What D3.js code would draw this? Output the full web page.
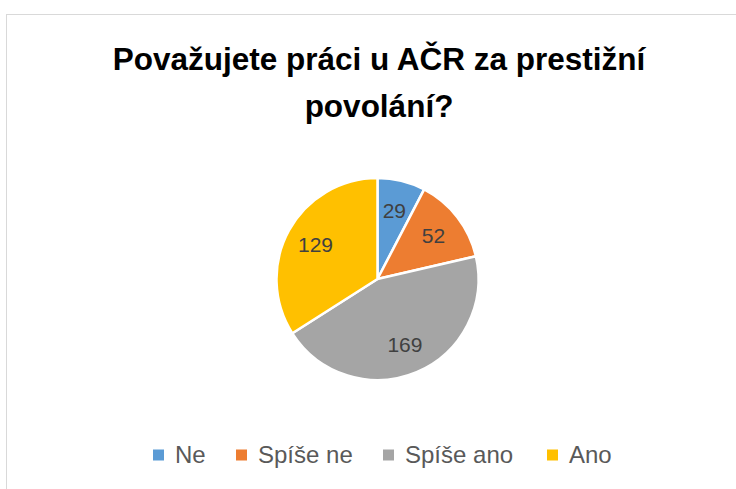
<!DOCTYPE html>
<html><head><meta charset="utf-8">
<script src="https://cdn.jsdelivr.net/npm/d3@7"></script>
<style>body{margin:0;background:#fff}svg{display:block}</style>
</head><body>
<svg id="c" width="736" height="489"></svg>
<script>
const categories = ["Ne", "Spíše ne", "Spíše ano", "Ano"];
const values = [29, 52, 169, 129];
const colors = ["#5B9BD5", "#ED7D31", "#A5A5A5", "#FFC000"];
const titleLines = ["Považujete práci u AČR za prestižní", "povolání?"];

const svg = d3.select("#c");
const font = "'Liberation Sans', Arial, sans-serif";

// chart area border
svg.append("rect").attr("x", 6.5).attr("y", 14.5).attr("width", 760).attr("height", 500)
  .attr("fill", "none").attr("stroke", "#D9D9D9").attr("stroke-width", 1);

// title
const title = svg.append("text").attr("text-anchor", "middle")
  .attr("font-family", font).attr("font-weight", "bold").attr("font-size", 31.5).attr("fill", "#000");
title.selectAll("tspan").data(titleLines).join("tspan")
  .attr("x", 379).attr("y", (d, i) => 70 + i * 47).text(d => d);

// pie
const cx = 377.5, cy = 279, r = 101;
const pie = d3.pie().sort(null).value(d => d)(values);
const arc = d3.arc().innerRadius(0).outerRadius(r);
const labelArc = d3.arc().innerRadius(r * 0.7).outerRadius(r * 0.7);
const g = svg.append("g").attr("transform", `translate(${cx},${cy})`);
g.selectAll("path").data(pie).join("path")
  .attr("d", arc).attr("fill", (d, i) => colors[i])
  .attr("stroke", "#fff").attr("stroke-width", 2.5).attr("stroke-linejoin", "round");
g.selectAll("text").data(pie).join("text")
  .attr("transform", d => `translate(${labelArc.centroid(d)})`)
  .attr("text-anchor", "middle").attr("dy", "0.35em")
  .attr("font-family", font).attr("font-size", 21).attr("fill", "#404040")
  .text(d => d.data);

// legend
const legendX = [153, 236, 383, 547];
const lg = svg.append("g");
const items = lg.selectAll("g").data(categories).join("g")
  .attr("transform", (d, i) => `translate(${legendX[i]},455)`);
items.append("rect").attr("x", 0).attr("y", -5.5).attr("width", 11).attr("height", 11)
  .attr("fill", (d, i) => colors[i]);
items.append("text").attr("x", 22).attr("dy", "0.35em")
  .attr("font-family", font).attr("font-size", 24).attr("fill", "#595959").text(d => d);
</script>
</body></html>
